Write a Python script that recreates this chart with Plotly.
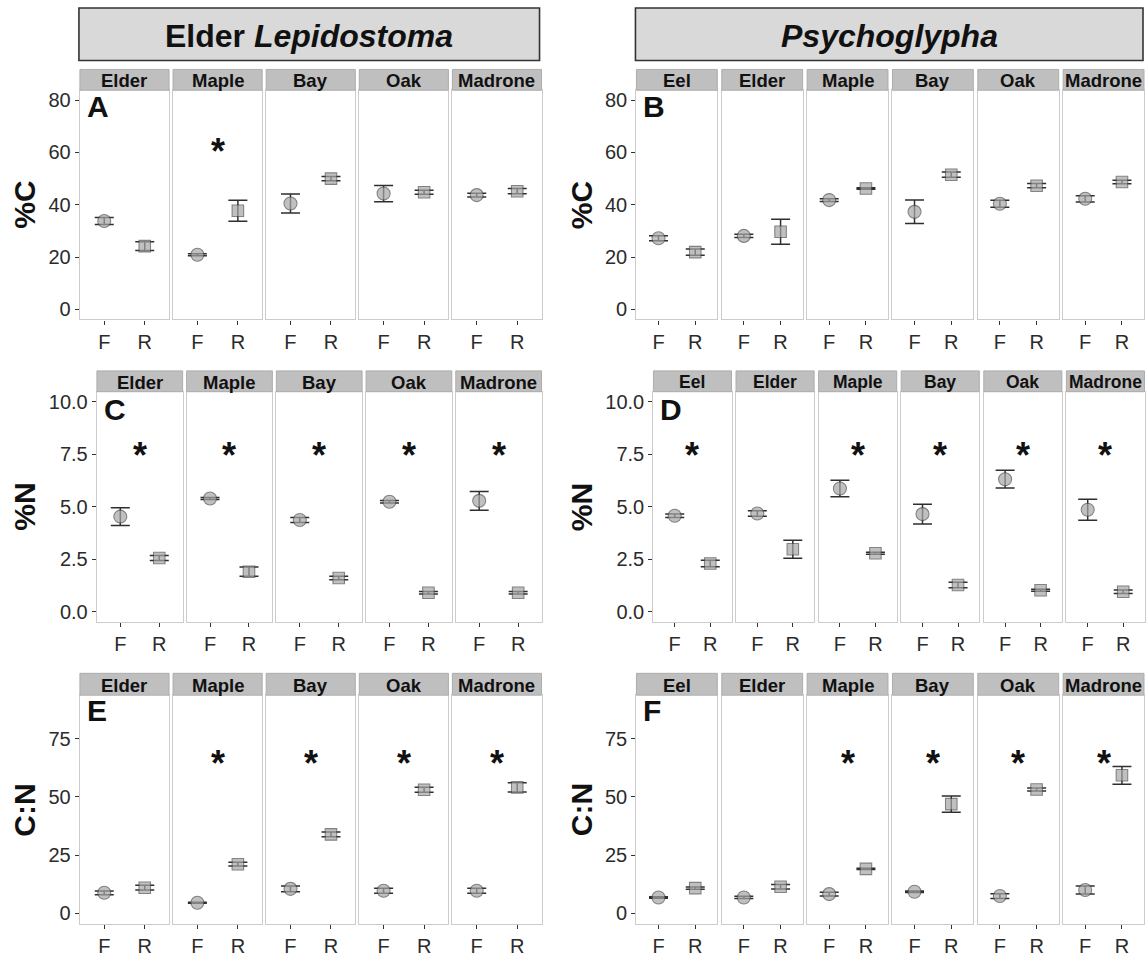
import plotly.graph_objects as go

W, H = 1146, 957

# ---------------- data ----------------
lep_leaves = ["Elder", "Maple", "Bay", "Oak", "Madrone"]
psy_leaves = ["Eel", "Elder", "Maple", "Bay", "Oak", "Madrone"]
states = ["F", "R"]

# %C
lep_C_F = [33.8, 20.9, 40.5, 44.3, 43.7]
lep_C_F_se = [1.3, 0.4, 3.6, 3.1, 0.7]
lep_C_R = [24.2, 37.7, 50.0, 44.8, 45.2]
lep_C_R_se = [1.7, 4.0, 0.8, 0.8, 1.0]
psy_C_F = [27.2, 28.1, 41.8, 37.3, 40.4, 42.3]
psy_C_F_se = [1.0, 0.6, 0.5, 4.5, 1.3, 1.2]
psy_C_R = [21.9, 29.7, 46.2, 51.5, 47.3, 48.7]
psy_C_R_se = [1.2, 4.8, 0.3, 1.0, 0.8, 0.7]

# %N
lep_N_F = [4.53, 5.39, 4.37, 5.24, 5.28]
lep_N_F_se = [0.42, 0.05, 0.12, 0.06, 0.45]
lep_N_R = [2.56, 1.91, 1.61, 0.91, 0.91]
lep_N_R_se = [0.12, 0.22, 0.08, 0.06, 0.06]
psy_N_F = [4.57, 4.68, 5.87, 4.65, 6.31, 4.86]
psy_N_F_se = [0.08, 0.13, 0.39, 0.47, 0.42, 0.50]
psy_N_R = [2.30, 2.98, 2.79, 1.28, 1.03, 0.96]
psy_N_R_se = [0.15, 0.43, 0.05, 0.13, 0.05, 0.08]

# C:N
lep_CN_F = [8.8, 4.55, 10.5, 9.7, 9.7]
lep_CN_F_se = [0.8, 0.2, 1.2, 1.1, 1.1]
lep_CN_R = [11.0, 21.1, 33.9, 53.1, 54.1]
lep_CN_R_se = [1.0, 0.8, 1.0, 1.1, 2.0]
psy_CN_F = [6.8, 6.8, 8.25, 9.25, 7.4, 10.0]
psy_CN_F_se = [0.3, 0.5, 0.8, 0.3, 1.0, 1.7]
psy_CN_R = [10.8, 11.4, 19.1, 46.9, 53.2, 59.3]
psy_CN_R_se = [0.5, 1.0, 0.3, 3.5, 0.6, 3.8]

# significance (asterisk) flags
lep_C_sig = [0, 1, 0, 0, 0]
psy_C_sig = [0, 0, 0, 0, 0, 0]
lep_N_sig = [1, 1, 1, 1, 1]
psy_N_sig = [1, 0, 1, 1, 1, 1]
lep_CN_sig = [0, 1, 1, 1, 1]
psy_CN_sig = [0, 0, 1, 1, 1, 1]

group_titles = ["<b>Elder <i>Lepidostoma</i></b>", "<b><i>Psychoglypha</i></b>"]
row_titles = ["%C", "%N", "C:N"]
panel_letters = [["A", "B"], ["C", "D"], ["E", "F"]]
star_y = [64, 7.85, 68.3]
y_ranges = [[-3.8, 83.8], [-0.47, 10.47], [-4.7, 93.75]]
y_tickvals = [[0, 20, 40, 60, 80], [0, 2.5, 5, 7.5, 10], [0, 25, 50, 75]]
y_ticktext = [["0", "20", "40", "60", "80"], ["0.0", "2.5", "5.0", "7.5", "10.0"], ["0", "25", "50", "75"]]

data = [
    [(lep_C_F, lep_C_F_se, lep_C_R, lep_C_R_se, lep_C_sig), (psy_C_F, psy_C_F_se, psy_C_R, psy_C_R_se, psy_C_sig)],
    [(lep_N_F, lep_N_F_se, lep_N_R, lep_N_R_se, lep_N_sig), (psy_N_F, psy_N_F_se, psy_N_R, psy_N_R_se, psy_N_sig)],
    [(lep_CN_F, lep_CN_F_se, lep_CN_R, lep_CN_R_se, lep_CN_sig), (psy_CN_F, psy_CN_F_se, psy_CN_R, psy_CN_R_se, psy_CN_sig)],
]
leaves = [lep_leaves, psy_leaves]

# ---------------- geometry (pixels) ----------------
row_geo = [
    dict(y0=90, y1=321, s0=69),
    dict(y0=394, y1=626, s0=373),
    dict(y0=700, y1=931, s0=678),
]
grp_geo = [
    [dict(x0=80, x1=542, gap=4.0), dict(x0=637, x1=1145, gap=4.5)],
    [dict(x0=97, x1=542, gap=4.0), dict(x0=654, x1=1145.5, gap=4.5)],
    [dict(x0=80, x1=542, gap=4.0), dict(x0=637, x1=1145, gap=4.5)],
]
ytitle_x = [25, 582]
letter_y = [106, 412, 715]

FONT = "Liberation Sans, Arial, Helvetica, sans-serif"
PT_FILL = "#a6a6a6"
PT_EDGE = "#4f4f4f"
ERR_COL = "#2e2e2e"
BORDER = "#cccccc"
STRIP_FILL = "#bfbfbf"
STRIP_EDGE = "#adadad"
TICK_COL = "#333333"


def px_x(p):
    return p / W


def px_y(p):
    return 1 - p / H


fig = go.Figure()
layout = dict(
    width=W, height=H, margin=dict(l=0, r=0, t=0, b=0),
    paper_bgcolor="white", plot_bgcolor="white", showlegend=False,
    font=dict(family=FONT, color="#1a1a1a"),
)
shapes = []
annotations = []

# header boxes
for g, (hx0, hx1) in enumerate([(79, 540), (636, 1144)]):
    shapes.append(dict(type="rect", xref="paper", yref="paper",
                       x0=px_x(hx0), x1=px_x(hx1), y0=px_y(60), y1=px_y(7),
                       fillcolor="#d9d9d9", line=dict(color="#333333", width=1.6), layer="below"))
    annotations.append(dict(xref="paper", yref="paper", x=px_x((hx0 + hx1) / 2), y=px_y(35),
                            text=group_titles[g], showarrow=False, xanchor="center", yanchor="middle",
                            font=dict(size=32, color="#111111", family=FONT)))

n_ax = 0
for r in range(3):
    rg = row_geo[r]
    for g in range(2):
        gg = grp_geo[r][g]
        lv = leaves[g]
        n = len(lv)
        pw = (gg["x1"] - gg["x0"] - gg["gap"] * (n - 1)) / n
        Fv, Fse, Rv, Rse, sig = data[r][g]
        for i, leaf in enumerate(lv):
            n_ax += 1
            xa = "x" if n_ax == 1 else f"x{n_ax}"
            ya = "y" if n_ax == 1 else f"y{n_ax}"
            xk = "xaxis" if n_ax == 1 else f"xaxis{n_ax}"
            yk = "yaxis" if n_ax == 1 else f"yaxis{n_ax}"
            px0 = gg["x0"] + i * (pw + gg["gap"])
            px1 = px0 + pw
            first = (i == 0)
            layout[xk] = dict(
                domain=[max(0, px_x(px0)), min(1, px_x(px1))], anchor=ya,
                range=[0.4, 2.6], tickmode="array", tickvals=[1, 2], ticktext=states,
                ticks="outside", ticklen=4, tickwidth=1.2, tickcolor=TICK_COL,
                showline=True, mirror=True, linecolor=BORDER, linewidth=1.4,
                showgrid=False, zeroline=False, fixedrange=True,
                tickfont=dict(size=20, color="#2b2b2b", family=FONT),
            )
            layout[yk] = dict(
                domain=[px_y(rg["y1"]), px_y(rg["y0"])], anchor=xa,
                range=y_ranges[r], tickmode="array", tickvals=y_tickvals[r], ticktext=y_ticktext[r],
                ticks="outside" if first else "", ticklen=4, tickwidth=1.2, tickcolor=TICK_COL,
                showticklabels=first,
                showline=True, mirror=True, linecolor=BORDER, linewidth=1.4,
                showgrid=False, zeroline=False, fixedrange=True,
                tickfont=dict(size=20, color="#2b2b2b", family=FONT),
            )
            # error bars (drawn beneath the points)
            fig.add_trace(go.Scatter(
                x=[1, 2], y=[Fv[i], Rv[i]], mode="markers", xaxis=xa, yaxis=ya,
                error_y=dict(type="data", array=[Fse[i], Rse[i]], visible=True,
                             color=ERR_COL, thickness=1.5, width=9.5),
                marker=dict(size=1, color="rgba(0,0,0,0)"),
                hoverinfo="skip",
            ))
            # points
            fig.add_trace(go.Scatter(
                x=[1, 2], y=[Fv[i], Rv[i]], mode="markers", xaxis=xa, yaxis=ya,
                marker=dict(symbol=["circle", "square"], size=[13, 11.5], color=PT_FILL,
                            line=dict(color=PT_EDGE, width=1.1)),
                hoverinfo="skip",
            ))
            # strip
            shapes.append(dict(type="rect", xref="paper", yref="paper",
                               x0=px_x(px0), x1=min(1, px_x(px1)), y0=px_y(rg["y0"]), y1=px_y(rg["s0"]),
                               fillcolor=STRIP_FILL, line=dict(color=STRIP_EDGE, width=1)))
            strip_size = 18.5 if pw > 80 else 17.5
            annotations.append(dict(xref="paper", yref="paper", x=px_x((px0 + px1) / 2),
                                    y=px_y((rg["s0"] + rg["y0"]) / 2 + 1),
                                    text=f"<b>{leaf}</b>", showarrow=False, xanchor="center", yanchor="middle",
                                    font=dict(size=strip_size, color="#111111", family=FONT)))
            if sig[i]:
                annotations.append(dict(xref=xa, yref=ya, x=1.5, y=star_y[r], yshift=-9,
                                        text="<b>*</b>", showarrow=False, xanchor="center", yanchor="middle",
                                        font=dict(size=36, color="#111111", family=FONT)))
            if first:
                annotations.append(dict(xref="paper", yref="paper", x=px_x(px0 + 5), y=px_y(letter_y[r]),
                                        text=f"<b>{panel_letters[r][g]}</b>", showarrow=False,
                                        xanchor="left", yanchor="middle",
                                        font=dict(size=30, color="#111111", family=FONT)))
                annotations.append(dict(xref="paper", yref="paper", x=px_x(ytitle_x[g]),
                                        y=px_y((rg["y0"] + rg["y1"]) / 2),
                                        text=f"<b>{row_titles[r]}</b>", showarrow=False, textangle=-90,
                                        xanchor="center", yanchor="middle",
                                        font=dict(size=30, color="#111111", family=FONT)))

layout["shapes"] = shapes
layout["annotations"] = annotations
fig.update_layout(**layout)
fig.write_html("out.html")
